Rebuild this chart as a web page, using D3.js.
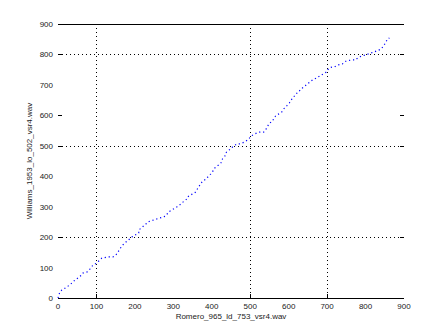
<!DOCTYPE html>
<meta charset="utf-8">
<title>DTW path</title>
<head>
<style>
body { margin: 0; background: #fff; }
text { font-family: "Liberation Sans", Arial, sans-serif; font-size: 8px; fill: #222; }
.grid line { stroke: #000; stroke-width: 1; stroke-dasharray: 1,3; shape-rendering: crispEdges; }
.frame { stroke: #000; stroke-width: 1; shape-rendering: crispEdges; }
.path { fill: none; stroke: #0000ff; stroke-width: 1.2; stroke-dasharray: 1.2,2.8; }
</style>
</head>
<body>
<svg width="447" height="335"></svg>
<script src="https://d3js.org/d3.v7.min.js"></script>
<script>
// warping path (frame index of each file)
var xVals = [0, 5, 10, 23, 36, 44, 52, 62, 65, 75, 83, 91, 101, 109, 114, 130, 143, 148, 153, 156,
  166, 174, 192, 210, 210, 226, 231, 234, 280, 288, 296, 309, 317, 322, 335, 337, 350, 356, 361, 369,
  376, 382, 387, 397, 402, 405, 421, 426, 428, 434, 436, 439, 452, 454, 465, 472, 485, 493, 506, 517,
  524, 535, 540, 550, 556, 566, 582, 589, 595, 602, 610, 620, 623, 631, 636, 652, 662, 667, 698, 701,
  706, 714, 719, 727, 740, 750, 766, 774, 779, 784, 792, 815, 828, 841, 852, 857, 862];
var yVals = [0, 20, 26, 36, 49, 59, 66, 76, 82, 85, 95, 108, 115, 125, 131, 135, 135, 138, 145, 151,
  171, 181, 200, 214, 223, 240, 246, 250, 269, 283, 289, 299, 306, 312, 325, 332, 342, 345, 355, 371,
  384, 388, 394, 407, 414, 424, 440, 447, 457, 466, 476, 480, 493, 496, 506, 506, 512, 519, 535, 542,
  545, 545, 552, 575, 578, 598, 611, 624, 631, 641, 657, 670, 677, 683, 690, 706, 716, 719, 742, 749,
  756, 759, 759, 765, 769, 779, 782, 782, 788, 792, 795, 805, 811, 818, 838, 851, 854];

var xTicks = [0, 100, 200, 300, 400, 500, 600, 700, 800, 900];
var yTicks = [0, 100, 200, 300, 400, 500, 600, 700, 800, 900];
var xGrid = [100, 500, 700];
var yGrid = [200, 500, 800];
var yMarks = [200, 500, 600, 800];
var xLabel = "Romero_965_ld_753_vsr4.wav";
var yLabel = "Williams_1953_lo_502_vsr4.wav";

var svg = d3.select("svg"),
    margin = {top: 24, right: 43, bottom: 37, left: 58},
    width = +svg.attr("width") - margin.left - margin.right,
    height = +svg.attr("height") - margin.top - margin.bottom,
    g = svg.append("g").attr("transform", "translate(" + margin.left + "," + margin.top + ")");

var x = d3.scaleLinear().domain([0, 900]).range([0, width]),
    y = d3.scaleLinear().domain([0, 900]).range([height, 0]);

var grid = g.append("g").attr("class", "grid");
grid.selectAll(".vx").data(xGrid).enter().append("line")
    .attr("x1", function(d) { return Math.round(x(d)) + 0.5; })
    .attr("x2", function(d) { return Math.round(x(d)) + 0.5; })
    .attr("y1", 0).attr("y2", height);
grid.selectAll(".hy").data(yGrid).enter().append("line")
    .attr("y1", function(d) { return Math.round(y(d)) + 0.5; })
    .attr("y2", function(d) { return Math.round(y(d)) + 0.5; })
    .attr("x1", 0).attr("x2", width);

// top and bottom of the box
g.append("line").attr("class", "frame").attr("x1", 0).attr("x2", width).attr("y1", 0.5).attr("y2", 0.5);
g.append("line").attr("class", "frame").attr("x1", 0).attr("x2", width).attr("y1", height + 0.5).attr("y2", height + 0.5);

// short inward ticks
g.selectAll(".tl").data(yMarks).enter().append("line").attr("class", "frame")
    .attr("x1", 0).attr("x2", 4)
    .attr("y1", function(d) { return Math.round(y(d)) + 0.5; })
    .attr("y2", function(d) { return Math.round(y(d)) + 0.5; });
g.selectAll(".tr").data(yMarks).enter().append("line").attr("class", "frame")
    .attr("x1", width - 4).attr("x2", width)
    .attr("y1", function(d) { return Math.round(y(d)) + 0.5; })
    .attr("y2", function(d) { return Math.round(y(d)) + 0.5; });
g.selectAll(".tb").data(xGrid).enter().append("line").attr("class", "frame")
    .attr("y1", height).attr("y2", height - 4)
    .attr("x1", function(d) { return Math.round(x(d)) + 0.5; })
    .attr("x2", function(d) { return Math.round(x(d)) + 0.5; });

g.selectAll(".xl").data(xTicks).enter().append("text")
    .attr("x", function(d) { return x(d); })
    .attr("y", height + 11)
    .attr("text-anchor", "middle")
    .text(function(d) { return d; });
g.selectAll(".yl").data(yTicks).enter().append("text")
    .attr("x", -5)
    .attr("y", function(d) { return y(d) + 3; })
    .attr("text-anchor", "end")
    .text(function(d) { return d; });

g.append("text")
    .attr("x", width / 2)
    .attr("y", height + 21)
    .attr("text-anchor", "middle")
    .text(xLabel);
g.append("text")
    .attr("transform", "translate(-26," + (height / 2) + ") rotate(-90)")
    .attr("text-anchor", "middle")
    .text(yLabel);

var pts = xVals.map(function(d, i) { return [d, yVals[i]]; });
var line = d3.line()
    .x(function(d) { return x(d[0]); })
    .y(function(d) { return y(d[1]); });

g.append("path").datum(pts).attr("class", "path").attr("d", line);
</script>
</body>
</html>
